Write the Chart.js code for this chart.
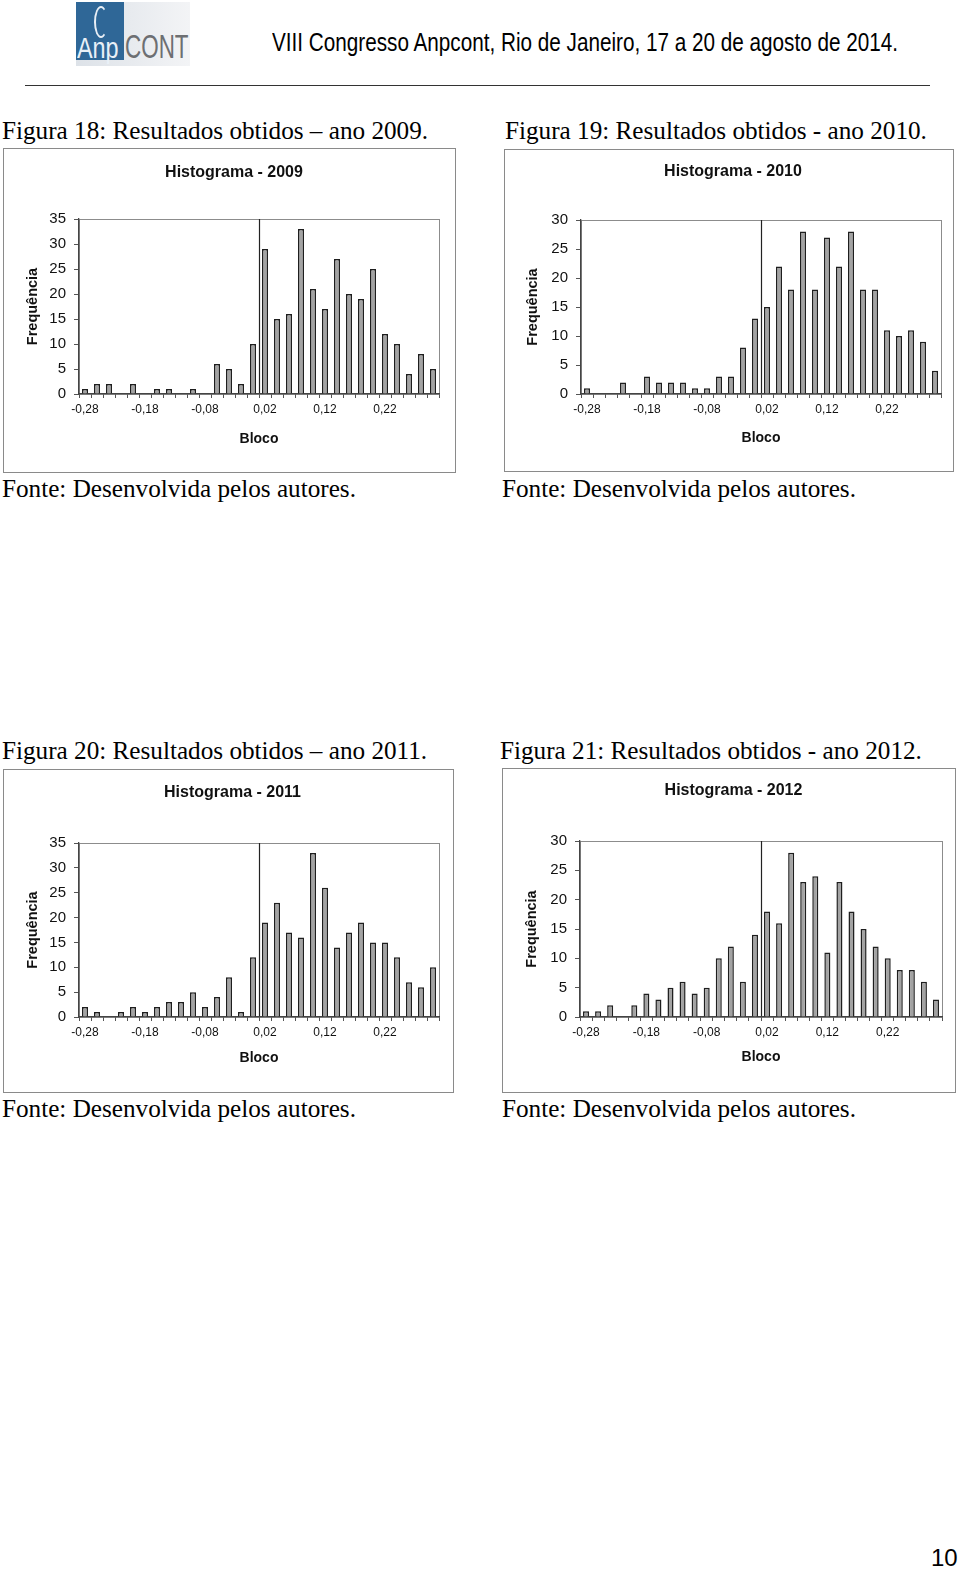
<!DOCTYPE html>
<html>
<head>
<meta charset="utf-8">
<script src="https://cdn.jsdelivr.net/npm/chart.js@4.4.1/dist/chart.umd.min.js"></script>
<style>
html,body{margin:0;padding:0;background:#fff;}
#page{position:relative;width:960px;height:1572px;overflow:hidden;background:#fff;}
.abs{position:absolute;white-space:nowrap;}
.cap{font-family:"Liberation Serif","Times New Roman",serif;font-size:25.2px;line-height:25px;color:#000;}
.box{position:absolute;border:1px solid #8a8a8a;box-sizing:border-box;background:#fff;}
.box canvas{position:absolute;left:0;top:0;}
</style>
</head>
<body>
<div id="page">
  <!-- header -->
  <div class="abs" style="left:76px;top:2px;width:114px;height:64px;background:linear-gradient(90deg,#dde2e8,#f3f4f6);overflow:hidden;">
    <div style="position:absolute;left:0;top:0;width:48px;height:58px;background:#2f6797;"></div>
    <div style="position:absolute;left:18px;top:4px;width:10px;height:28px;border:2px solid #e8eef5;border-radius:50%;border-right-color:transparent;"></div>
    <div style="position:absolute;left:1px;top:30px;font:30px 'Liberation Sans',sans-serif;line-height:32px;color:#e9f0f7;transform:scaleX(0.78);transform-origin:0 0;">Anp</div>
    <div style="position:absolute;left:49px;top:28px;font:33px 'Liberation Sans',sans-serif;line-height:34px;color:#6d6f72;transform:scaleX(0.68);transform-origin:0 0;">CONT</div>
  </div>
  <div id="hdr" class="abs" style="left:272px;top:28px;font:25px 'Liberation Sans Narrow','Liberation Sans',sans-serif;line-height:28px;color:#000;transform-origin:0 0;">VIII Congresso Anpcont, Rio de Janeiro, 17 a 20 de agosto de 2014.</div>
  <div class="abs" style="left:25px;top:85px;width:905px;height:1px;background:#333;"></div>

  <!-- captions -->
  <div class="abs cap" style="left:2px;top:118px;">Figura 18: Resultados obtidos – ano 2009.</div>
  <div class="abs cap" style="left:505px;top:118px;">Figura 19: Resultados obtidos - ano 2010.</div>
  <div class="abs cap" style="left:2px;top:476px;">Fonte: Desenvolvida pelos autores.</div>
  <div class="abs cap" style="left:502px;top:476px;">Fonte: Desenvolvida pelos autores.</div>

  <div class="abs cap" style="left:2px;top:738px;">Figura 20: Resultados obtidos – ano 2011.</div>
  <div class="abs cap" style="left:500px;top:738px;">Figura 21: Resultados obtidos - ano 2012.</div>
  <div class="abs cap" style="left:2px;top:1096px;">Fonte: Desenvolvida pelos autores.</div>
  <div class="abs cap" style="left:502px;top:1096px;">Fonte: Desenvolvida pelos autores.</div>

  <div class="box" id="b1" style="left:3px;top:148px;width:453px;height:325px;"><canvas id="c1"></canvas></div>
  <div class="box" id="b2" style="left:504px;top:149px;width:450px;height:323px;"><canvas id="c2"></canvas></div>
  <div class="box" id="b3" style="left:3px;top:769px;width:451px;height:324px;"><canvas id="c3"></canvas></div>
  <div class="box" id="b4" style="left:502px;top:768px;width:454px;height:325px;"><canvas id="c4"></canvas></div>

  <div class="abs" style="left:931px;top:1544px;font:24px 'Liberation Sans',Arial,sans-serif;line-height:28px;color:#000;">10</div>
</div>

<script>
// ---------- DATA ----------
const categories = ['-0,28','-0,26','-0,24','-0,22','-0,20','-0,18','-0,16','-0,14','-0,12','-0,10',
                    '-0,08','-0,06','-0,04','-0,02','0,00','0,02','0,04','0,06','0,08','0,10',
                    '0,12','0,14','0,16','0,18','0,20','0,22','0,24','0,26','0,28','0,30'];
const tickLabels = ['-0,28','-0,18','-0,08','0,02','0,12','0,22'];
const freq2009 = [1,2,2,0,2,0,1,1,0,1,0,6,5,2,10,29,15,16,33,21,17,27,20,19,25,12,10,4,8,5];
const freq2010 = [1,0,0,2,0,3,2,2,2,1,1,3,3,8,13,15,22,18,28,18,27,22,28,18,18,11,10,11,9,4];
const freq2011 = [2,1,0,1,2,1,2,3,3,5,2,4,8,1,12,19,23,17,16,33,26,14,17,19,15,15,12,7,6,10];
const freq2012 = [1,1,2,0,2,4,3,5,6,4,5,10,12,6,14,18,16,28,23,24,11,23,18,15,12,10,8,8,6,3];
const years = ['2009','2010','2011','2012'];
const yMaxes = [35,30,35,30];
const yStep = 5;
const refLineBetween = ['0,00','0,02'];
const xTitle = 'Bloco';
const yTitle = 'Frequência';
const titlePrefix = 'Histograma - ';

// ---------- LAYOUT (styles only) ----------
const layouts = [
  {canvas:'c1', box:'b1', padL:25, padR:16, yW:50, titleY:24, top:70, xH:78, xTitleB:33, yTitleX:29},
  {canvas:'c2', box:'b2', padL:20, padR:12, yW:56, titleY:22, top:70, xH:77, xTitleB:33, yTitleX:28},
  {canvas:'c3', box:'b3', padL:22, padR:14, yW:53, titleY:23, top:73, xH:75, xTitleB:34, yTitleX:29},
  {canvas:'c4', box:'b4', padL:22, padR:13, yW:55, titleY:22, top:72, xH:75, xTitleB:35, yTitleX:29}
];
const series = [freq2009, freq2010, freq2011, freq2012];

const FONT = "'Liberation Sans', Arial, sans-serif";

const framePlugin = {
  id: 'frame',
  beforeDraw(chart) {
    const {ctx, chartArea: a} = chart;
    const xs = chart.scales.x;
    ctx.save();
    ctx.strokeStyle = '#8c8c8c';
    ctx.lineWidth = 1;
    ctx.strokeRect(Math.round(a.left) + 0.5, Math.round(a.top) + 0.5, Math.round(a.right - a.left), Math.round(a.bottom - a.top));
    const p0 = xs.getPixelForValue(categories.indexOf(refLineBetween[0]));
    const p1 = xs.getPixelForValue(categories.indexOf(refLineBetween[1]));
    const px = Math.round((p0 + p1) / 2) + 0.5;
    ctx.strokeStyle = '#222';
    ctx.lineWidth = 1.2;
    ctx.beginPath();
    ctx.moveTo(px, a.top);
    ctx.lineTo(px, a.bottom);
    ctx.stroke();
    ctx.restore();
  }
};

// header text fit
(function(){
  const h = document.getElementById('hdr');
  const w = h.getBoundingClientRect().width;
  h.style.transform = 'scaleX(' + (626 / w) + ')';
})();

layouts.forEach((L, i) => {
  const box = document.getElementById(L.box);
  const W = box.clientWidth, H = box.clientHeight;
  const cv = document.getElementById(L.canvas);
  cv.width = W; cv.height = H;
  cv.style.width = W + 'px'; cv.style.height = H + 'px';
  const titleSize = 16, titleLH = titleSize * 1.2;
  const axTitleSize = 14.5, axLH = axTitleSize * 1.2;
  new Chart(cv, {
    type: 'bar',
    data: {
      labels: categories,
      datasets: [{
        data: series[i],
        backgroundColor: '#a3a3a3',
        borderColor: '#1e1e1e',
        borderWidth: ctx => (ctx.raw ? 1.5 : 0),
        borderSkipped: 'bottom',
        barPercentage: 0.5,
        categoryPercentage: 1
      }]
    },
    options: {
      responsive: false,
      animation: false,
      devicePixelRatio: 1,
      layout: {padding: {left: L.padL, right: L.padR, top: 0, bottom: 0}},
      plugins: {
        legend: {display: false},
        tooltip: {enabled: false},
        title: {
          display: true,
          text: titlePrefix + years[i],
          color: '#111',
          font: {family: FONT, size: titleSize, weight: 'bold', lineHeight: 1.2},
          padding: {top: L.titleY - titleLH / 2, bottom: L.top - L.titleY - titleLH / 2}
        }
      },
      scales: {
        x: {
          type: 'category',
          offset: true,
          afterFit: s => { s.height = L.xH; },
          grid: {display: true, drawOnChartArea: false, drawTicks: true, tickLength: 4, color: '#555', offset: true},
          border: {display: true, color: '#444', width: 1.3},
          ticks: {
            autoSkip: false, maxRotation: 0, minRotation: 0,
            color: '#111', padding: 4,
            font: {family: FONT, size: 12},
            callback: (v, idx) => (tickLabels.includes(categories[idx]) ? categories[idx] : '')
          },
          title: {
            display: true, text: xTitle, color: '#111',
            font: {family: FONT, size: 14, weight: 'bold', lineHeight: 1.2},
            padding: {top: 0, bottom: L.xTitleB - 14 * 1.2 / 2}
          }
        },
        y: {
          min: 0, max: yMaxes[i],
          afterFit: s => { s.width = L.yW; },
          grid: {display: true, drawOnChartArea: false, drawTicks: true, tickLength: 5, color: '#555'},
          border: {display: true, color: '#444', width: 1.3},
          ticks: {stepSize: yStep, color: '#111', padding: 8, font: {family: FONT, size: 15}},
          title: {
            display: true, text: yTitle, color: '#111',
            font: {family: FONT, size: axTitleSize, weight: 'bold', lineHeight: 1.2},
            padding: {top: L.yTitleX - L.padL - axLH / 2, bottom: 0}
          }
        }
      }
    },
    plugins: [framePlugin]
  });
});
</script>
</body>
</html>
